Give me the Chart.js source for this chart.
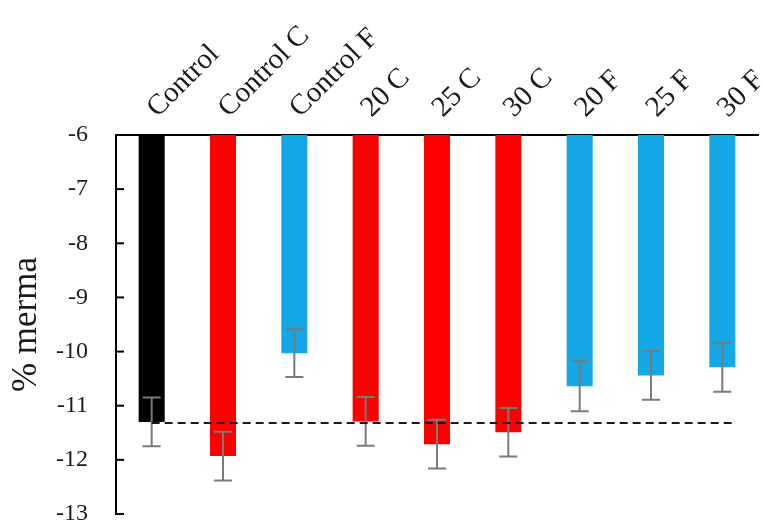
<!DOCTYPE html>
<html>
<head>
<meta charset="utf-8">
<script src="https://cdn.jsdelivr.net/npm/chart.js@4"></script>
<style>
    html, body { margin: 0; padding: 0; background: #ffffff; }
    #wrap { width: 763px; height: 524px; }
</style>
</head>
<body>
<div id="wrap"><canvas id="mermaChart" width="763" height="524"></canvas></div>
<script>

const categories = ["Control", "Control C", "Control F", "20 C", "25 C", "30 C", "20 F", "25 F", "30 F"];
const mermaValues = [-11.30, -11.93, -10.03, -11.29, -11.71, -11.49, -10.64, -10.44, -10.29];
const errorValues = [0.45, 0.45, 0.44, 0.45, 0.45, 0.45, 0.46, 0.45, 0.45];
const barColors = ["#000000", "#ff0000", "#14a8e6", "#ff0000", "#ff0000", "#ff0000", "#14a8e6", "#14a8e6", "#14a8e6"];
const referenceLevel = -11.32;
const yMin = -13;
const yMax = -6;


const serif = "'Liberation Serif', 'Times New Roman', serif";


// error bars, dashed reference line and inward ticks on the y axis
const extrasPlugin = {
    id: "extras",
    afterDatasetsDraw(chart) {

        const ctx = chart.ctx;
        const xScale = chart.scales.x;
        const yScale = chart.scales.y;
        const bars = chart.getDatasetMeta(0).data;

        ctx.save();

        // error bars
        ctx.strokeStyle = "#7a7a7a";
        ctx.lineWidth = 2;
        bars.forEach((bar, i) => {
            const x = bar.x;
            const yHigh = yScale.getPixelForValue(mermaValues[i] + errorValues[i]);
            const yLow = yScale.getPixelForValue(mermaValues[i] - errorValues[i]);
            ctx.beginPath();
            ctx.moveTo(x, yHigh);
            ctx.lineTo(x, yLow);
            ctx.moveTo(x - 9, yHigh);
            ctx.lineTo(x + 9, yHigh);
            ctx.moveTo(x - 9, yLow);
            ctx.lineTo(x + 9, yLow);
            ctx.stroke();
        });

        // dashed reference line at the control level
        const lastBar = bars[bars.length - 1];
        const yRef = yScale.getPixelForValue(referenceLevel);
        ctx.strokeStyle = "#1a1a1a";
        ctx.lineWidth = 2;
        ctx.setLineDash([8, 5]);
        ctx.beginPath();
        ctx.moveTo(xScale.getPixelForValue(0), yRef);
        ctx.lineTo(lastBar.x + lastBar.width / 2, yRef);
        ctx.stroke();
        ctx.setLineDash([]);

        // inward tick marks
        ctx.strokeStyle = "#000000";
        ctx.lineWidth = 2;
        const xAxis = chart.chartArea.left;
        for (let v = yMin; v < yMax; v++) {
            const y = yScale.getPixelForValue(v);
            ctx.beginPath();
            ctx.moveTo(xAxis, y);
            ctx.lineTo(xAxis + 8, y);
            ctx.stroke();
        }

        ctx.restore();

    }
};


new Chart(
    document.getElementById("mermaChart"), {
        type: "bar",
        data: {
            labels: categories,
            datasets: [
                {
                    label: "% merma",
                    data: mermaValues,
                    base: yMax,
                    backgroundColor: barColors,
                    borderWidth: 0,
                    categoryPercentage: 1,
                    barPercentage: 0.365
                }
            ]
        },
        options: {
            responsive: false,
            animation: false,
            layout: {
                padding: { left: 6, right: 5, top: 0, bottom: 10 }
            },
            plugins: {
                legend: { display: false },
                tooltip: { enabled: false }
            },
            scales: {
                x: {
                    position: "top",
                    grid: { display: false, drawTicks: false },
                    border: { display: true, color: "#000000", width: 2 },
                    ticks: {
                        color: "#1a1a1a",
                        font: { family: serif, size: 29 },
                        minRotation: 45,
                        maxRotation: 45,
                        labelOffset: 25,
                        padding: 10
                    },
                    afterFit: (scale) => {
                        scale.height = 135;
                        scale.paddingLeft = 0;
                        scale.paddingRight = 0;
                    }
                },
                y: {
                    min: yMin,
                    max: yMax,
                    grid: { display: false, drawTicks: false },
                    border: { display: true, color: "#000000", width: 2 },
                    ticks: {
                        stepSize: 1,
                        color: "#1a1a1a",
                        font: { family: serif, size: 24 },
                        padding: 28
                    },
                    title: {
                        display: true,
                        text: "% merma",
                        color: "#1a1a1a",
                        font: { family: serif, size: 35 },
                        padding: 0
                    },
                    afterFit: (scale) => {
                        scale.width = 110;
                        scale.paddingTop = 0;
                        scale.paddingBottom = 0;
                    }
                }
            }
        },
        plugins: [extrasPlugin]
    }
);

</script>
</body>
</html>
